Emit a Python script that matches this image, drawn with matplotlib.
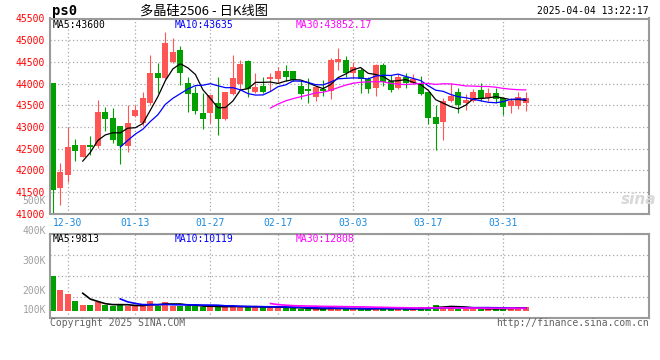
import matplotlib
matplotlib.use("Agg")
import matplotlib.pyplot as plt
import matplotlib.transforms as mtransforms
import numpy as np
import pandas as pd

# daily bars, 2024-12-26 .. 2025-04-03
dates = ["12-26", "12-27", "12-30", "12-31", "01-02", "01-03", "01-06", "01-07",
         "01-08", "01-09", "01-10", "01-13", "01-14", "01-15", "01-16", "01-17",
         "01-20", "01-21", "01-22", "01-23", "01-24", "01-27", "02-05", "02-06",
         "02-07", "02-10", "02-11", "02-12", "02-13", "02-14", "02-17", "02-18",
         "02-19", "02-20", "02-21", "02-24", "02-25", "02-26", "02-27", "02-28",
         "03-03", "03-04", "03-05", "03-06", "03-07", "03-10", "03-11", "03-12",
         "03-13", "03-14", "03-17", "03-18", "03-19", "03-20", "03-21", "03-24",
         "03-25", "03-26", "03-27", "03-28", "03-31", "04-01", "04-02", "04-03"]

opens = [44005, 41595, 41895, 42580, 42310, 42580, 42565, 43335, 43200, 43015,
         42565, 43245, 43085, 43550, 44235, 44135, 44500, 44780, 44005, 43775,
         43315, 43315, 43545, 43185, 43760, 43990, 44520, 43795, 43950, 44105,
         44105, 44280, 44280, 43950, 43875, 43680, 43875, 43820, 44500, 44540,
         44240, 44320, 44105, 43895, 44425, 44065, 43895, 44155, 44010, 43990,
         43795, 43220, 43105, 43605, 43795, 43550, 43605, 43850, 43660, 43775,
         43660, 43490, 43490, 43550]
highs = [44005, 42170, 43005, 42715, 42590, 42785, 43615, 43450, 43435, 43030,
         43500, 43500, 43795, 44655, 44465, 45190, 45060, 44855, 44155, 43950,
         43775, 43740, 44140, 43800, 44655, 44550, 44550, 44255, 44155, 44255,
         44385, 44425, 44300, 44065, 44120, 43920, 44080, 44600, 44810, 44625,
         44500, 44355, 44140, 44450, 44470, 44205, 44220, 44255, 44220, 44180,
         43800, 43505, 43665, 44005, 43890, 43760, 43875, 44005, 43895, 43890,
         43680, 43660, 43795, 43795]
lows = [40990, 41205, 41735, 42220, 42300, 42355, 42525, 42915, 42630, 42150,
        42415, 43230, 43030, 43515, 43775, 44105, 44480, 43965, 43345, 43290,
        42955, 43085, 42815, 43160, 43735, 43875, 43695, 43780, 43780, 43835,
        44005, 44065, 44060, 43645, 43550, 43605, 43720, 43645, 44310, 44155,
        44120, 43775, 43775, 43705, 43950, 43795, 43875, 43895, 43990, 43735,
        43070, 42470, 42700, 43565, 43320, 43390, 43565, 43605, 43605, 43545,
        43275, 43320, 43415, 43375]
closes = [41550, 41955, 42530, 42450, 42580, 42540, 43335, 43175, 42700, 42565,
          43085, 43385, 43660, 44235, 44120, 44945, 44730, 44255, 43760, 43360,
          43175, 43735, 43175, 43795, 44120, 44440, 43875, 43910, 43795, 44155,
          44280, 44140, 44080, 43760, 43835, 43910, 43835, 44540, 44565, 44255,
          44385, 44105, 43875, 44425, 44025, 43850, 44155, 44005, 44105, 43760,
          43200, 43070, 43605, 43705, 43505, 43630, 43795, 43645, 43775, 43645,
          43465, 43605, 43680, 43660]
# volume in K, read against the 500K/400K/300K/200K labels
volumes = [249, 202, 189, 166, 152, 152, 162, 152, 150, 152,
           150, 150, 150, 166, 150, 162, 150, 150, 150, 148,
           146, 148, 146, 146, 150, 146, 145, 146, 145, 146,
           146, 141, 142, 140, 139, 139, 139, 146, 141, 139,
           139, 139, 139, 146, 139, 139, 139, 139, 139, 144,
           146, 152, 146, 149, 140, 140, 139, 140, 139, 140,
           144, 141, 144, 144]

tick_dates = ["12-30", "01-13", "01-27", "02-17", "03-03", "03-17", "03-31"]
price_ticks = list(range(41000, 45501, 500))
vol_label_values = [500, 400, 300, 200, 100]
VOL_FLOOR = 132   # volume bars are drawn up from here

RED = "#ff5555"
GREEN = "#00a000"
GRID = "#a8a8a8"
FRAME = "#9a9a9a"
DATE_BLUE = "#1a8ae0"
W, H = 660, 360

plt.rcParams['font.family'] = ['DejaVu Sans Mono']
plt.rcParams['font.size'] = 7


def fx(x):
    return x / W


def fy(y):
    return 1 - y / H


fig = plt.figure(figsize=(W / 100, H / 100), dpi=100)
ax = fig.add_axes([fx(50), fy(213.7), fx(649.3) - fx(50), fy(18.5) - fy(213.7)])
axv = fig.add_axes([fx(50), fy(317.7), fx(649.3) - fx(50), fy(234) - fy(317.7)])

idx = np.arange(len(closes))
o = np.array(opens)
c = np.array(closes)
colors = np.where(c >= o, RED, GREEN)
tick_pos = [dates.index(d) for d in tick_dates]

for a in (ax, axv):
    a.set_xlim(-0.36, 79.44)
    a.set_xticks(tick_pos)
    a.grid(axis='both', color=GRID, ls=(0, (1, 2)), lw=0.9)
    a.set_axisbelow(True)
    for s in a.spines.values():
        s.set_color(FRAME)
        s.set_linewidth(1.5)

# candles
ax.vlines(idx, lows, highs, colors=colors, lw=0.8)
body_h = np.maximum(np.abs(c - o), 20)
ax.bar(idx, body_h, bottom=np.minimum(o, c), width=0.8, color=colors, lw=0)

ma_styles = [(5, 'black'), (10, '#0000ff'), (30, '#ff00ff')]
cs = pd.Series(closes)
for n, col in ma_styles:
    ax.plot(idx, cs.rolling(n).mean(), color=col, lw=0.9)

ax.set_ylim(41000, 45500)
ax.set_yticks(price_ticks)
ax.set_xticklabels(tick_dates)
ax.tick_params(axis='y', length=0, pad=4, labelcolor='red')
ax.tick_params(axis='x', length=0, pad=3, labelcolor=DATE_BLUE)

# volume
v = np.array(volumes)
axv.bar(idx, v - VOL_FLOOR, bottom=VOL_FLOOR, width=0.8, color=colors, lw=0)
vs = pd.Series(volumes)
for n, col in ma_styles:
    axv.plot(idx, vs.rolling(n).mean(), color=col, lw=1.2)

axv.set_ylim(110, 389)
axv.set_yticks(np.linspace(110, 389, 5))
axv.set_yticklabels([])
axv.set_xticklabels([])
axv.tick_params(length=0)

trans = mtransforms.blended_transform_factory(axv.transAxes, axv.transData)
for val in vol_label_values:
    axv.text(-4 / 599.3, max(val, VOL_FLOOR + 3), f"{val}K", transform=trans,
             ha='right', va='center', color='#a0a0a0', clip_on=False)

# header texts
fig.text(fx(52), fy(11), "ps0", fontsize=10, fontweight='bold', va='center')
fig.text(fx(140), fy(11), "多晶硅2506 - 日K线图", fontsize=9.5, va='center',
         family=['Noto Sans CJK SC', 'DejaVu Sans'])
fig.text(fx(649), fy(11.5), "2025-04-04 13:22:17", ha='right', va='center')

fig.text(fx(53), fy(25), "MA5:43600", va='center', color='black')
fig.text(fx(175), fy(25), "MA10:43635", va='center', color='#0000ff')
fig.text(fx(296), fy(25), "MA30:43852.17", va='center', color='#ff00ff')

fig.text(fx(53), fy(238.5), "MA5:9813", va='center', color='black')
fig.text(fx(175), fy(238.5), "MA10:10119", va='center', color='#0000ff')
fig.text(fx(296), fy(238.5), "MA30:12808", va='center', color='#ff00ff')

fig.text(fx(50), fy(323.5), "Copyright 2025 SINA.COM", va='center', color='#606060')
fig.text(fx(649), fy(323.5), "http://finance.sina.com.cn", ha='right', va='center', color='#606060')

# watermark
fig.text(fx(621), fy(199), "sina", fontsize=11, style='italic', fontweight='bold',
         color='#d8d8d8', va='center', family='DejaVu Sans')

fig.savefig("out.png", dpi=100)
